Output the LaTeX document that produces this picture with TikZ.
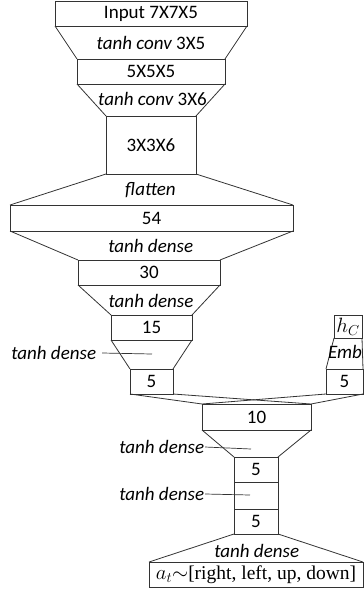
\documentclass[tikz,border=0pt]{standalone}
\usepackage{fontspec}
\setmainfont{Carlito}
\newfontfamily\serifnm{Liberation Serif}
\begin{document}
\begin{tikzpicture}[x=1pt,y=-1pt,
  blk/.style={draw=black!80, line width=0.8pt, inner sep=0pt, outer sep=0pt, font=\fontsize{19}{22}\selectfont},
  lbl/.style={inner sep=0pt, outer sep=1pt, font=\fontsize{19}{22}\selectfont\itshape},
  edge/.style={draw=black!80, line width=0.8pt},
  lead/.style={draw=black!80, line width=0.7pt}]
\useasboundingbox (0,0) rectangle (364,592);
% boxes
\node[blk, minimum width=192pt, minimum height=25pt] (in)  at (151,13.5) {Input 7X7X5};
\node[blk, minimum width=148pt, minimum height=25pt] (b5)  at (151,71.5) {5X5X5};
\node[blk, minimum width=90pt,  minimum height=58pt] (b3)  at (151,145) {3X3X6};
\node[blk, minimum width=283pt, minimum height=26pt] (b54) at (151.5,218) {54};
\node[blk, minimum width=142pt, minimum height=25pt] (b30) at (149,272.5) {30};
\node[blk, minimum width=81pt,  minimum height=25pt] (b15) at (151.5,327.5) {15};
\node[blk, minimum width=43pt,  minimum height=25pt] (b5a) at (151.5,381.5) {5};
\node[blk, minimum width=28pt,  minimum height=23pt, font=\fontsize{21}{24}\selectfont] (hc)  at (348,326.5) {$h_C$};
\node[blk, minimum width=37pt,  minimum height=25pt] (b5b) at (344.5,381.5) {5};
\node[blk, minimum width=109pt, minimum height=26pt] (b10) at (256.5,417) {10};
\node[blk, minimum width=44pt,  minimum height=25pt] (c1)  at (256,469.5) {5};
\node[blk, minimum width=44pt,  minimum height=27pt] (c2)  at (256,495.5) {};
\node[blk, minimum width=44pt,  minimum height=25pt] (c3)  at (256,521.5) {5};
\node[blk, minimum width=214pt, minimum height=25pt, font=\fontsize{19.5}{23}\selectfont] (out) at (256,574.5) {$a_t{\sim}$\serifnm[right, left, up, down]};
% trapezoid edges
\draw[edge] (in.south west) -- (b5.north west) (in.south east) -- (b5.north east);
\draw[edge] (b5.south west) -- (b3.north west) (b5.south east) -- (b3.north east);
\draw[edge] (b3.south west) -- (b54.north west) (b3.south east) -- (b54.north east);
\draw[edge] (b54.south west) -- (b30.north west) (b54.south east) -- (b30.north east);
\draw[edge] (b30.south west) -- (b15.north west) (b30.south east) -- (b15.north east);
\draw[edge] (b15.south west) -- (b5a.north west) (b15.south east) -- (b5a.north east);
\draw[edge] (hc.south west) -- (b5b.north west) (hc.south east) -- (b5b.north east);
\draw[edge] (b5a.south west) -- (b10.north west) (b5a.south east) -- (b10.north east);
\draw[edge] (b5b.south west) -- (b10.north west) (b5b.south east) -- (b10.north east);
\draw[edge] (b10.south west) -- (c1.north west) (b10.south east) -- (c1.north east);
\draw[edge] (c3.south west) -- (out.north west) (c3.south east) -- (out.north east);
% labels
\node[lbl] (l1) at (151,43) {tanh conv \upshape 3X5};
\node[lbl] (l2) at (152.5,99) {tanh conv \upshape 3X6};
\node[lbl] (l3) at (150.5,190) {flatten};
\node[lbl] (l4) at (150.7,246) {tanh dense};
\node[lbl] (l5) at (151,301) {tanh dense};
\node[lbl] (l6) at (53.7,353) {tanh dense};
\node[lbl] (emb) at (345,352) {Emb};
\node[lbl] (l7) at (161.7,447) {tanh dense};
\node[lbl] (l8) at (161.7,494) {tanh dense};
\node[lbl] (l9) at (256.7,551) {tanh dense};
% leader lines
\coordinate (p6) at (152,354);
\coordinate (p7) at (251,449);
\coordinate (p8) at (250,495);
\draw[lead] (l6.east) ++(5,0) -- (p6);
\draw[lead] (l7.east) -- (p7);
\draw[lead] (l8.east) -- (p8);
\end{tikzpicture}
\end{document}
